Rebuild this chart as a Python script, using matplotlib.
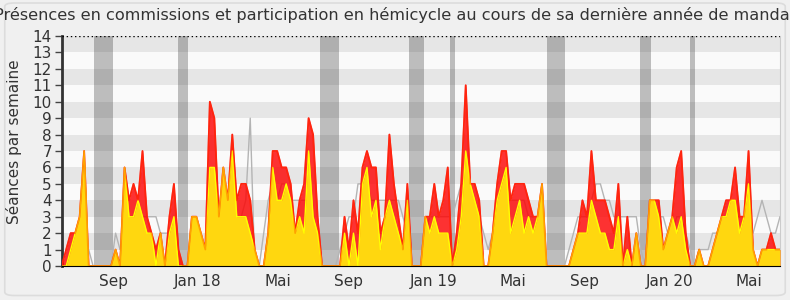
import matplotlib
matplotlib.use("Agg")
import matplotlib.pyplot as plt
from matplotlib.patches import FancyBboxPatch
import numpy as np

# weekly values, week 0 = mid June 2017
hemicycle = [0, 1, 2, 2, 3, 7, 0, 0, 0, 0, 0, 0, 1, 0, 6, 4, 5, 4, 7, 3,
             2, 1, 2, 0, 3, 5, 1, 0, 0, 3, 3, 2, 1, 10, 9, 3, 6, 4, 8, 4,
             5, 5, 4, 1, 0, 0, 2, 7, 7, 6, 6, 5, 2, 4, 5, 9, 8, 3, 0, 0,
             0, 0, 0, 3, 1, 4, 2, 6, 7, 6, 6, 2, 3, 8, 5, 3, 1, 5, 0, 0,
             0, 3, 3, 5, 3, 4, 6, 0, 2, 5, 11, 5, 5, 4, 0, 0, 2, 5, 7, 7,
             4, 5, 5, 5, 4, 3, 3, 5, 0, 0, 0, 0, 0, 0, 1, 2, 4, 3, 7, 4,
             4, 4, 3, 2, 5, 0, 3, 0, 2, 0, 0, 4, 4, 4, 1, 2, 3, 6, 7, 2,
             0, 0, 1, 0, 0, 1, 2, 3, 4, 4, 6, 3, 3, 7, 1, 0, 1, 1, 2, 1,
             1]
commission = [0, 0, 1, 2, 3, 7, 0, 0, 0, 0, 0, 0, 1, 0, 6, 3, 3, 4, 3, 2,
              2, 0, 2, 0, 2, 3, 0, 0, 0, 3, 3, 2, 1, 6, 6, 3, 6, 4, 7, 3,
              3, 3, 2, 1, 0, 0, 2, 6, 4, 4, 5, 4, 2, 3, 2, 7, 3, 2, 0, 0,
              0, 0, 0, 2, 0, 2, 0, 5, 6, 3, 4, 1, 3, 4, 3, 2, 1, 4, 0, 0,
              0, 3, 2, 3, 2, 2, 2, 0, 1, 3, 7, 5, 4, 3, 0, 0, 2, 4, 5, 6,
              2, 3, 4, 2, 3, 2, 3, 5, 0, 0, 0, 0, 0, 0, 1, 2, 2, 2, 4, 3,
              2, 2, 1, 1, 3, 0, 1, 0, 2, 0, 0, 4, 4, 3, 1, 2, 3, 2, 3, 1,
              0, 0, 1, 0, 0, 1, 2, 3, 3, 4, 4, 2, 3, 5, 1, 0, 1, 1, 1, 1,
              1]
mediane = [0, 0, 1, 1, 1, 1, 1, 0, 0, 0, 0, 0, 2, 1, 2, 2, 2, 3, 3, 3,
           3, 3, 2, 2, 2, 2, 1, 0, 0, 1, 1, 1, 1, 2, 2, 2, 2, 2, 2, 3,
           3, 4, 9, 0, 0, 2, 4, 5, 4, 5, 5, 4, 4, 4, 4, 4, 3, 2, 0, 0,
           0, 0, 1, 2, 3, 3, 5, 5, 5, 4, 4, 4, 4, 4, 4, 4, 3, 2, 0, 0,
           0, 2, 3, 3, 3, 3, 3, 3, 4, 5, 5, 4, 4, 3, 2, 1, 2, 3, 4, 4,
           4, 4, 4, 4, 3, 3, 3, 2, 0, 0, 0, 0, 0, 1, 2, 3, 3, 3, 4, 5,
           5, 4, 4, 3, 3, 3, 3, 3, 3, 1, 0, 2, 3, 3, 3, 2, 2, 3, 3, 2,
           1, 0, 1, 1, 1, 2, 2, 2, 2, 2, 3, 3, 3, 3, 2, 3, 4, 3, 2, 2,
           3]
# parliamentary holidays, in weeks
vacances = [(7.3, 11.4), (26.0, 28.2), (57.6, 61.8), (77.4, 80.6),
            (86.4, 87.5), (108.0, 112.2), (128.9, 131.2), (139.9, 141.0)]
mois = ["Sep", "Jan 18", "Mai", "Sep", "Jan 19", "Mai", "Sep", "Jan 20", "Mai"]
mois_pos = [11.65, 30.2, 48.2, 63.9, 82.8, 100.6, 116.5, 135.4, 153.0]

weeks = np.arange(len(hemicycle))

fig = plt.figure(figsize=(7.9, 3.0), dpi=100, facecolor="#f0f0f0")
fig.patches.append(FancyBboxPatch((0.006, 0.015), 0.988, 0.975,
                                  boxstyle="round,pad=0,rounding_size=0.012",
                                  transform=fig.transFigure, facecolor="none",
                                  edgecolor="#dcdcdc", lw=1.2))
ax = fig.add_axes([0.0781, 0.1133, 0.9092, 0.7667])
ax.set_facecolor("#fafafa")

for v in range(1, 14, 2):
    ax.axhspan(v, v + 1, color="#e6e6e6", lw=0, zorder=0)
for a, b in vacances:
    ax.axvspan(a, b, color="#323232", alpha=0.3, lw=0, zorder=1)

ax.plot(weeks, mediane, color="#b4b4b4", lw=1, zorder=2)
ax.fill_between(weeks, 0, hemicycle, color="#ff0000", alpha=0.8, lw=0, zorder=3)
ax.plot(weeks, hemicycle, color="#ff1a1a", lw=1.3, zorder=4)
ax.fill_between(weeks, 0, commission, color="#ffd70f", lw=0, zorder=5)
ax.plot(weeks, commission, color="#ffff00", lw=1, zorder=6)
ax.plot(weeks, hemicycle, color="#ff3300", lw=1.2, alpha=0.45, zorder=7)

ax.set_xlim(0, len(hemicycle) - 1)
ax.set_ylim(0, 14)
ax.set_yticks(range(15))
ax.set_xticks(mois_pos)
ax.set_xticklabels(mois)
ax.tick_params(axis="x", length=0, labelsize=11, labelcolor="#333333", pad=6)
ax.tick_params(axis="y", length=5, width=1, color="#444444", labelsize=11,
               labelcolor="#333333", pad=2)
ax.axhline(14, color="black", lw=1, ls=(0, (1, 2)), zorder=8)
ax.spines["top"].set_visible(False)
ax.spines["right"].set_color("#cccccc")
ax.spines["left"].set_color("#333333")
ax.spines["left"].set_linewidth(2)
ax.spines["bottom"].set_color("black")
ax.spines["bottom"].set_zorder(9)

fig.text(0.5, 0.95, "Présences en commissions et participation en hémicycle au cours de sa dernière année de mandat",
         ha="center", va="center", fontsize=11.6, color="#333333")
fig.text(14 / 790, 1 - 142 / 300, "Séances par semaine", rotation=90,
         ha="center", va="center", fontsize=11, color="#333333")

fig.savefig("out.png", dpi=100, facecolor=fig.get_facecolor())
